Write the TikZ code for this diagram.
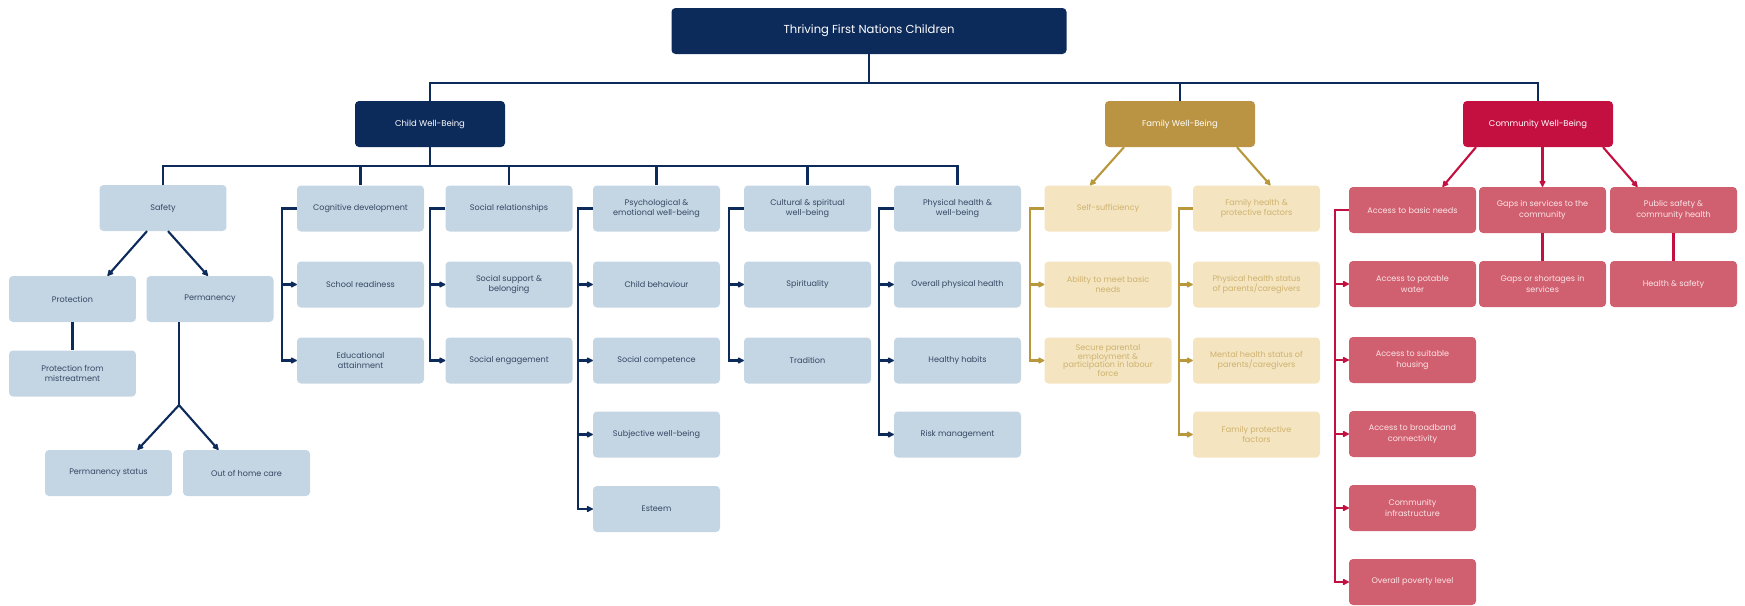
\documentclass[tikz,border=0pt]{standalone}
\usepackage{fontspec}
\setmainfont{Poppins}
\usetikzlibrary{arrows.meta}
\definecolor{brandNavy}{RGB}{12,42,90}
\definecolor{skyBox}{RGB}{196,213,228}
\definecolor{skyInk}{RGB}{52,72,98}
\definecolor{goldDeep}{RGB}{186,148,66}
\definecolor{goldLine}{RGB}{184,152,58}
\definecolor{goldPale}{RGB}{244,228,192}
\definecolor{goldInk}{RGB}{206,178,110}
\definecolor{crimson}{RGB}{196,16,64}
\definecolor{roseBox}{RGB}{208,96,112}
\definecolor{roseInk}{RGB}{252,228,230}
\tikzset{
  box/.style={rounded corners=0.2cm,minimum width=6.35cm,minimum height=2.3cm,inner sep=2pt,
              align=center,font=\fontsize{11.5}{14.5}\selectfont},
  childbox/.style={box,fill=skyBox,text=skyInk},
  famlybox/.style={box,fill=goldPale,text=goldInk},
  commbox/.style={box,fill=roseBox,text=roseInk},
  headbox/.style={rounded corners=0.2cm,minimum width=7.5cm,minimum height=2.3cm,text=white,
              font=\fontsize{12}{14}\selectfont},
  navyline/.style={draw=brandNavy,line width=3pt},
  goldwire/.style={draw=goldLine,line width=3pt},
  crimwire/.style={draw=crimson,line width=3pt},
  arrowend/.style={-{Latex[length=0.38cm,width=0.38cm,round]}}
}
\begin{document}
\begin{tikzpicture}[x=0.05cm,y=-0.05cm]
\useasboundingbox (0,0) rectangle (1745,605);

% top levels
\node[rounded corners=0.2cm,fill=brandNavy,text=white,minimum width=19.75cm,minimum height=2.3cm,
      font=\fontsize{16.5}{18}\selectfont] (thrive) at (869,31) {Thriving First Nations Children};
\node[headbox,fill=brandNavy] (child) at (430,124) {Child Well-Being};
\node[headbox,fill=goldDeep] (family) at (1180,124) {Family Well-Being};
\node[headbox,fill=crimson] (community) at (1538,124) {Community Well-Being};

\foreach \n in {child,family,community}
  \draw[navyline] (thrive.south) -- ++(0,29) -| (\n.north);

% child well-being
\node[childbox] (safety) at (163,208) {Safety};
\node[childbox] (protect) at (72.5,299) {Protection};
\node[childbox] (perman) at (210,299) {Permanency};
\node[childbox] (mistreat) at (72.5,373.5) {Protection from\\mistreatment};
\node[childbox] (permstat) at (108.5,473) {Permanency status};
\node[childbox] (homecare) at (246.5,473) {Out of home care};

\node[childbox] (cogdev) at (360.5,208.5) {Cognitive development};
\node[childbox] (school) at (360.5,284.5) {School readiness};
\node[childbox] (educ) at (360.5,360.5) {Educational\\attainment};

\node[childbox] (socrel) at (509,208.5) {Social relationships};
\node[childbox] (support) at (509,284.5) {Social support \&\\belonging};
\node[childbox] (engage) at (509,360.5) {Social engagement};

\node[childbox] (psych) at (656.5,208.5) {Psychological \&\\emotional well-being};
\node[childbox] (behave) at (656.5,284.5) {Child behaviour};
\node[childbox] (compet) at (656.5,360.5) {Social competence};
\node[childbox] (subject) at (656.5,434.5) {Subjective well-being};
\node[childbox] (esteem) at (656.5,509) {Esteem};

\node[childbox] (cultural) at (807.5,208.5) {Cultural \& spiritual\\well-being};
\node[childbox] (spirit) at (807.5,284.5) {Spirituality};
\node[childbox] (tradit) at (807.5,360.5) {Tradition};

\node[childbox] (physical) at (957.5,208.5) {Physical health \&\\well-being};
\node[childbox] (overall) at (957.5,284.5) {Overall physical health};
\node[childbox] (habits) at (957.5,360.5) {Healthy habits};
\node[childbox] (risk) at (957.5,434.5) {Risk management};

\foreach \n in {safety,cogdev,socrel,psych,cultural,physical}
  \draw[navyline] (child.south) -- ++(0,19) -| (\n.north);

\draw[navyline,arrowend] ([xshift=-0.8cm]safety.south) -- ([xshift=1.75cm]protect.north);
\draw[navyline,arrowend] ([xshift=0.25cm]safety.south) -- ([xshift=-0.1cm]perman.north);
\draw[navyline] (protect) -- (mistreat);
\coordinate (permfork) at ([xshift=-1.55cm,yshift=-4.15cm]perman.south);
\draw[navyline] ([xshift=-1.55cm]perman.south) -- (permfork);
\draw[navyline,arrowend] (permfork) -- ([xshift=1.45cm]permstat.north);
\draw[navyline,arrowend] (permfork) -- ([xshift=-1.4cm]homecare.north);

\foreach \up/\dn in {cogdev/school,cogdev/educ,socrel/support,socrel/engage,
    psych/behave,psych/compet,psych/subject,psych/esteem,cultural/spirit,cultural/tradit,
    physical/overall,physical/habits,physical/risk}
  \draw[navyline,arrowend] (\up.west) -- ++(-15,0) |- (\dn.west);

% family well-being
\node[famlybox] (selfsuf) at (1108,208.5) {Self-sufficiency};
\node[famlybox] (basic) at (1108,284.5) {Ability to meet basic\\needs};
\node[famlybox,font=\fontsize{11.5}{12.5}\selectfont] (employ) at (1108,360.5)
  {Secure parental\\employment \&\\participation in labour\\force};
\node[famlybox] (famhealth) at (1256.5,208.5) {Family health \&\\protective factors};
\node[famlybox] (physstat) at (1256.5,284.5) {Physical health status\\of parents/caregivers};
\node[famlybox] (mentstat) at (1256.5,360.5) {Mental health status of\\parents/caregivers};
\node[famlybox] (famprot) at (1256.5,434.5) {Family protective\\factors};

\draw[goldwire,arrowend] ([xshift=-2.8cm]family.south) -- ([xshift=-0.9cm]selfsuf.north);
\draw[goldwire,arrowend] ([xshift=2.85cm]family.south) -- ([xshift=0.7cm]famhealth.north);
\foreach \up/\dn in {selfsuf/basic,selfsuf/employ,famhealth/physstat,famhealth/mentstat,famhealth/famprot}
  \draw[goldwire,arrowend] (\up.west) -- ++(-14,0) |- (\dn.west);

% community well-being
\node[commbox] (needs) at (1412.5,210) {Access to basic needs};
\node[commbox] (water) at (1412.5,284) {Access to potable\\water};
\node[commbox] (housing) at (1412.5,360) {Access to suitable\\housing};
\node[commbox] (broadband) at (1412.5,434) {Access to broadband\\connectivity};
\node[commbox] (infra) at (1412.5,508) {Community\\infrastructure};
\node[commbox] (poverty) at (1412.5,582) {Overall poverty level};
\node[commbox] (gaps) at (1542.5,210) {Gaps in services to the\\community};
\node[commbox] (shortage) at (1542.5,284) {Gaps or shortages in\\services};
\node[commbox] (pubsafe) at (1673.5,210) {Public safety \&\\community health};
\node[commbox] (hsafety) at (1673.5,284) {Health \& safety};

\draw[crimwire,arrowend] ([xshift=-3.1cm]community.south) -- ([xshift=1.5cm]needs.north);
\draw[crimwire,arrowend] (community.south -| gaps.north) -- (gaps.north);
\draw[crimwire,arrowend] ([xshift=3.25cm]community.south) -- ([xshift=-1.8cm]pubsafe.north);
\draw[crimwire] (gaps) -- (shortage);
\draw[crimwire] (pubsafe) -- (hsafety);
\foreach \dn in {water,housing,broadband,infra,poverty}
  \draw[crimwire,arrowend] (needs.west) -- ++(-14,0) |- (\dn.west);
\end{tikzpicture}
\end{document}
